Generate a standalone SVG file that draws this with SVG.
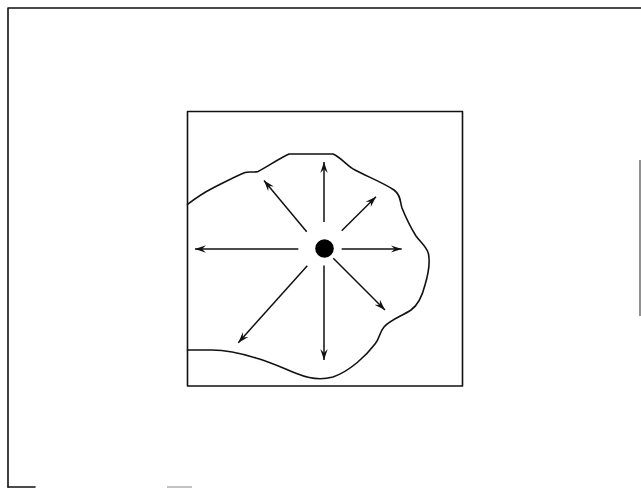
<svg xmlns="http://www.w3.org/2000/svg" width="641" height="488" viewBox="0 0 641 488">
<style>
.ln{fill:none;stroke:#111;stroke-width:1.6;stroke-linejoin:round;stroke-linecap:round}
.ar{fill:none;stroke:#111;stroke-width:1.5;marker-end:url(#ah)}
</style>
<defs>
<marker id="ah" viewBox="0 0 12 8" markerWidth="12" markerHeight="8" refX="11" refY="4" orient="auto" markerUnits="userSpaceOnUse">
<path d="M0,0.3 L11,4 L0,7.7 L4,4 Z" fill="#111"/>
</marker>
</defs>
<rect width="641" height="488" fill="#fff"/>
<g id="frame">
<path class="ln" d="M8,487 L8,8 L641,8"/>
<path d="M640,160 L640,316" fill="none" stroke="#555" stroke-width="1.3"/>
<path class="ln" d="M8,487 L35,487"/>
<path d="M167,487 L192,487" fill="none" stroke="#999" stroke-width="1.2"/>
</g>
<g id="box">
<rect x="187.5" y="111.5" width="275" height="274.5" class="ln"/>
</g>
<g id="region">
<path class="ln" d="M187.5,204.3 C196,198 203,193 212,188.5 C222,183.5 236,176 245,172.5 C250,171 254,173 258,171.5 C266,167.5 280,158 289,154 L333,154 C342,158 347,166 355,170 C366,176 382,182 394,190 C401,195 400,202 402,208 C406,218 411,228 416,236 C421,243 427,247 428.5,254 C430,262 428,275 425,285 C422,297 418,305 411,310 C402,316 390,320 384,327 C379,333 380,338 375,344 C366,356 350,371 333,377 C322,380 310,379 298,374 C283,368 270,362 256,358 C240,353 226,350 212,350 L187.5,350"/>
</g>
<g id="source">
<circle cx="324.5" cy="248.5" r="9.3" fill="#000"/>
</g>
<g id="connectors">
<line class="ar" x1="324" y1="222" x2="324" y2="162"/>
<line class="ar" x1="341.7" y1="230.7" x2="376" y2="196.7"/>
<line class="ar" x1="341.7" y1="249" x2="401.7" y2="249"/>
<line class="ar" x1="333.3" y1="258.3" x2="385" y2="310"/>
<line class="ar" x1="324" y1="265.5" x2="324" y2="360"/>
<line class="ar" x1="307.3" y1="265.7" x2="238.3" y2="342.7"/>
<line class="ar" x1="298.3" y1="249" x2="195" y2="249"/>
<line class="ar" x1="306.7" y1="231.7" x2="264" y2="180.5"/>
</g>
</svg>
